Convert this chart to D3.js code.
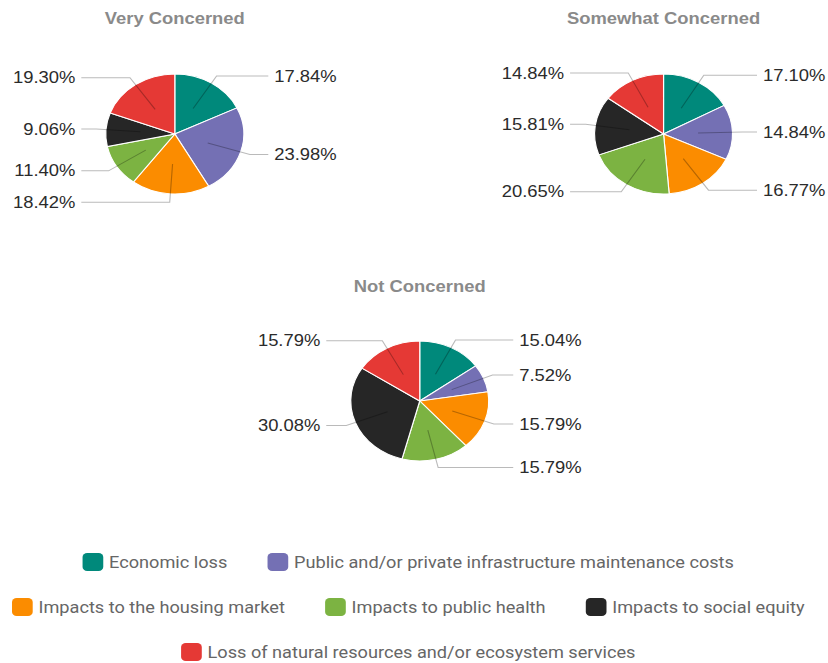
<!DOCTYPE html>
<html>
<head>
<meta charset="utf-8">
<script src="https://cdn.jsdelivr.net/npm/d3@7"></script>
<style>
  html, body { margin: 0; padding: 0; background: #fff; }
  svg { display: block; }
</style>
</head>
<body>
<svg id="chart"></svg>
<script>
// Concern groups and the share of each impact category (percent)
const groups = ["Very Concerned", "Somewhat Concerned", "Not Concerned"];
const categories = [
  "Economic loss",
  "Public and/or private infrastructure maintenance costs",
  "Impacts to the housing market",
  "Impacts to public health",
  "Impacts to social equity",
  "Loss of natural resources and/or ecosystem services"
];
const veryConcerned = [17.84, 23.98, 18.42, 11.40, 9.06, 19.30];
const somewhatConcerned = [17.10, 14.84, 16.77, 20.65, 15.81, 14.84];
const notConcerned = [15.04, 7.52, 15.79, 15.79, 30.08, 15.79];
const palette = ["#00897b", "#7470b4", "#fb8c00", "#7cb342", "#262626", "#e53935"];

const seriesByGroup = [veryConcerned, somewhatConcerned, notConcerned];

// Drawing is done in a 720-wide space, then stretched to the page width
const W = 828, H = 663, VW = 720;
const svg = d3.select("#chart")
  .attr("width", W).attr("height", H)
  .attr("viewBox", `0 0 ${VW} ${H}`)
  .attr("preserveAspectRatio", "none");

const R = 60;
const centers = [
  { x: 152, y: 134, titleY: 24 },
  { x: 577, y: 134, titleY: 24 },
  { x: 365, y: 401, titleY: 292 }
];

const color = d3.scaleOrdinal().domain(categories).range(palette);
const pie = d3.pie().sort(null).value(d => d.value);
const arc = d3.arc().innerRadius(0).outerRadius(R);
const fmt = d3.format(".2f");

groups.forEach((g, gi) => {
  const c = centers[gi];
  const data = categories.map((cat, i) => ({ cat, value: seriesByGroup[gi][i] }));
  const arcs = pie(data);

  svg.append("text")
    .attr("x", c.x).attr("y", c.titleY)
    .attr("text-anchor", "middle")
    .attr("font-family", "'Liberation Sans', Arial, sans-serif")
    .attr("font-weight", "bold")
    .attr("font-size", 16)
    .attr("fill", "#8a8a8a")
    .text(g);

  const pg = svg.append("g").attr("transform", `translate(${c.x},${c.y})`);

  pg.selectAll("path.slice")
    .data(arcs)
    .join("path")
    .attr("class", "slice")
    .attr("d", arc)
    .attr("fill", d => color(d.data.cat))
    .attr("stroke", "#fff")
    .attr("stroke-width", 1);

  // leader lines: from the slice interior out to an elbow, then horizontal to the label
  const lab = pg.selectAll("g.lab")
    .data(arcs)
    .join("g")
    .attr("class", "lab");

  lab.each(function (d) {
    const a = (d.startAngle + d.endAngle) / 2;
    const sx = Math.sin(a), sy = -Math.cos(a);
    const inner = [sx * R * 0.5, sy * R * 0.5];
    const elbow = [sx * R * 1.14, sy * R * 1.14];
    const right = sx >= 0;
    const endX = right ? 81.3 : -81.3;
    const textX = right ? 86.5 : -86.5;
    const sel = d3.select(this);
    sel.append("path")
      .attr("d", d3.line()([inner, elbow, [endX, elbow[1]]]))
      .attr("fill", "none")
      .attr("stroke", "#000")
      .attr("stroke-opacity", 0.27)
      .attr("stroke-width", 1);
    sel.append("text")
      .attr("x", textX).attr("y", elbow[1])
      .attr("dy", "0.35em")
      .attr("text-anchor", right ? "start" : "end")
      .attr("font-family", "'Liberation Sans', Arial, sans-serif")
      .attr("font-size", 16)
      .attr("fill", "#2b2b2b")
      .text(fmt(d.data.value) + "%");
  });
});

// Legend: items flow into centred rows
const legend = svg.append("g");
const legendCenter = 355, maxRow = 700, sq = 18, sqGap = 5, itemGap = 35;
const rowYs = [562, 607, 652];

const items = categories.map(cat => {
  const g = legend.append("g");
  g.append("rect")
    .attr("width", sq).attr("height", sq)
    .attr("y", -sq / 2)
    .attr("rx", 4).attr("ry", 4)
    .attr("fill", color(cat));
  const t = g.append("text")
    .attr("x", sq + sqGap)
    .attr("dy", "0.35em")
    .attr("font-family", "Roboto, 'Open Sans', sans-serif")
    .attr("font-size", 15.8)
    .attr("fill", "#666")
    .text(cat);
  return { g, w: sq + sqGap + t.node().getComputedTextLength() };
});

const rows = [];
let cur = [];
let curW = 0;
items.forEach(it => {
  const add = cur.length ? itemGap + it.w : it.w;
  if (cur.length && curW + add > maxRow) {
    rows.push({ items: cur, w: curW });
    cur = [it]; curW = it.w;
  } else {
    cur.push(it); curW += add;
  }
});
if (cur.length) rows.push({ items: cur, w: curW });

rows.forEach((row, ri) => {
  let x = legendCenter - row.w / 2;
  row.items.forEach(it => {
    it.g.attr("transform", `translate(${x},${rowYs[ri]})`);
    x += it.w + itemGap;
  });
});
</script>
</body>
</html>
